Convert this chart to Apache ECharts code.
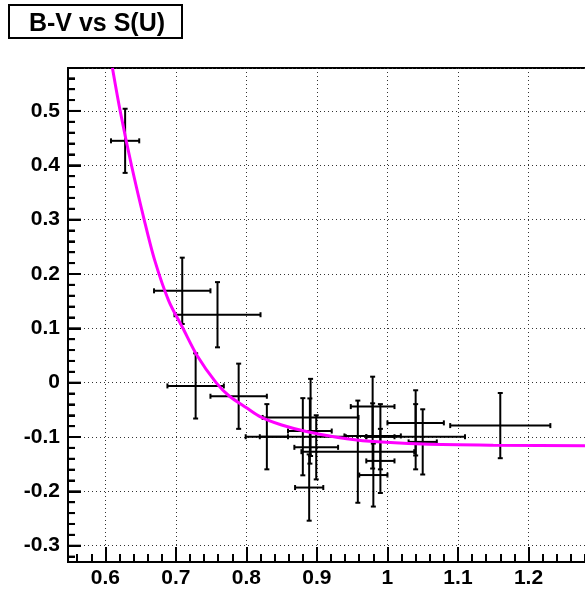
<!DOCTYPE html>
<html><head><meta charset="utf-8">
<script src="https://cdn.jsdelivr.net/npm/echarts@6/dist/echarts.min.js"></script>
<style>html,body{margin:0;padding:0;background:#fff}#c{width:585px;height:592px}</style>
</head><body><div id="c"></div>
<script>
// ---- data ----
const titleText = 'B-V vs S(U)';
const ptX    = [0.628, 0.709, 0.759, 0.728, 0.789, 0.829, 0.880, 0.891, 0.890, 0.899, 0.889, 0.958, 0.979, 0.979, 0.980, 0.990, 0.990, 1.040, 1.040, 1.050, 1.160];
const ptY    = [0.445, 0.169, 0.125, -0.006, -0.025, -0.0995, -0.0995, -0.064, -0.089, -0.119, -0.193, -0.127, -0.044, -0.098, -0.170, -0.144, -0.0995, -0.074, -0.0995, -0.109, -0.079];
const ptXErr = [0.020, 0.040, 0.061, 0.040, 0.040, 0.030, 0.061, 0.068, 0.031, 0.031, 0.020, 0.080, 0.031, 0.040, 0.020, 0.020, 0.020, 0.040, 0.070, 0.020, 0.071];
const ptYErr = [0.059, 0.061, 0.060, 0.060, 0.060, 0.060, 0.071, 0.071, 0.060, 0.059, 0.061, 0.094, 0.055, 0.060, 0.058, 0.059, 0.060, 0.060, 0.060, 0.060, 0.060];
const curveX = [0.610, 0.621, 0.637, 0.655, 0.670, 0.690, 0.710, 0.730, 0.757, 0.776, 0.800, 0.820, 0.850, 0.885, 0.930, 0.975, 1.050, 1.150, 1.300];
const curveY = [0.579, 0.500, 0.400, 0.300, 0.225, 0.150, 0.100, 0.050, 0.000, -0.025, -0.046, -0.063, -0.078, -0.090, -0.101, -0.108, -0.113, -0.115, -0.116];
const xTickLabels = ['0.6', '0.7', '0.8', '0.9', '1', '1.1', '1.2'];
const yTickLabels = ['-0.3', '-0.2', '-0.1', '0', '0.1', '0.2', '0.3', '0.4', '0.5'];

const X_MIN = 0.547, X_MAX = 1.30, Y_MIN = -0.330, Y_MAX = 0.579;

// y tick positions (majors from the labels, minors every 0.02)
const yMajorVals = yTickLabels.map(Number);
const yMinorVals = [];
for (let i = -16; i <= 28; i++) { if (i % 5 !== 0) yMinorVals.push(Math.round(i * 2) / 100); }

const points = ptX.map((x, i) => [x, ptY[i], ptXErr[i], ptYErr[i]]);
const curve = curveX.map((x, i) => [x, curveY[i]]);

const FONT = 'Liberation Sans';
const labelStyle = { color: '#000', fontFamily: FONT, fontWeight: 'bold', fontSize: 21 };
const blackLine = { color: '#000', width: 2 };
const gridLine = { show: true, lineStyle: { color: '#333', width: 1, type: [1, 3] } };

const tickSegs = [];
yMajorVals.forEach(v => tickSegs.push([X_MIN, v, 13]));
yMinorVals.forEach(v => tickSegs.push([X_MIN, v, 7]));

const chart = echarts.init(document.getElementById('c'), null, { renderer: 'canvas' });
chart.setOption({
  animation: false,
  backgroundColor: '#fff',
  grid: { left: 68, top: 68, width: 531, height: 494, show: true, borderColor: '#000', borderWidth: 2, backgroundColor: 'transparent', containLabel: false, outerBoundsMode: 'none' },
  xAxis: {
    type: 'value', min: X_MIN, max: X_MAX, minInterval: 0.1, maxInterval: 0.1, position: 'bottom',
    axisLine: { show: true, onZero: false, lineStyle: blackLine },
    axisTick: { show: true, inside: true, length: 15, lineStyle: blackLine },
    minorTick: { show: true, splitNumber: 5, length: 8, lineStyle: blackLine },
    axisLabel: { show: true, margin: 6, showMinLabel: false, showMaxLabel: false, ...labelStyle,
      formatter: v => { const s = String(+(+v).toFixed(2)); return xTickLabels.includes(s) ? s : ''; } },
    splitLine: gridLine, minorSplitLine: { show: false }
  },
  yAxis: {
    type: 'value', min: Y_MIN, max: Y_MAX, minInterval: 0.1, maxInterval: 0.1, position: 'left',
    axisLine: { show: true, onZero: false, lineStyle: blackLine },
    axisTick: { show: true, inside: true, length: 13, lineStyle: blackLine },
    minorTick: { show: true, splitNumber: 5, length: 7, lineStyle: blackLine },
    axisLabel: { show: true, margin: 8, showMinLabel: false, showMaxLabel: false, ...labelStyle,
      formatter: v => { const s = String(+(+v).toFixed(2)); return yTickLabels.includes(s) ? s : ''; } },
    splitLine: gridLine, minorSplitLine: { show: false }
  },
  series: [
    { type: 'custom', z: 3, data: points,
      renderItem: function (params, api) {
        const x = api.value(0), y = api.value(1), ex = api.value(2), ey = api.value(3);
        const l = api.coord([x - ex, y]), r = api.coord([x + ex, y]);
        const t = api.coord([x, y + ey]), b = api.coord([x, y - ey]);
        const c = 2.5;
        const st = { stroke: '#000', lineWidth: 2 };
        const ln = (x1, y1, x2, y2) => ({ type: 'line', shape: { x1, y1, x2, y2 }, style: st });
        return { type: 'group', children: [
          ln(l[0], l[1], r[0], r[1]),
          ln(t[0], t[1], b[0], b[1]),
          ln(l[0], l[1] - c, l[0], l[1] + c),
          ln(r[0], r[1] - c, r[0], r[1] + c),
          ln(t[0] - c, t[1], t[0] + c, t[1]),
          ln(b[0] - c, b[1], b[0] + c, b[1])
        ] };
      } },
    { type: 'line', z: 4, data: curve, showSymbol: false, smooth: 0.3,
      clip: true, lineStyle: { color: '#ff00ff', width: 3 } },
    { type: 'custom', z: 6, silent: true, clip: false, data: tickSegs,
      renderItem: function (params, api) {
        const p = api.coord([api.value(0), api.value(1)]);
        const len = api.value(2);
        return { type: 'rect', shape: { x: p[0], y: p[1] - 1, width: len, height: 2 }, style: { fill: '#000' } };
      } }
  ],
  graphic: [
    { type: 'rect', z: 10, shape: { x: 9, y: 5, width: 173, height: 33 }, style: { fill: '#fff', stroke: '#000', lineWidth: 2 } },
    { type: 'text', z: 11, x: 97, y: 24, style: { text: titleText, fontFamily: FONT, fontWeight: 'bold', fontSize: 25, fill: '#000', align: 'center', verticalAlign: 'middle' } }
  ]
});
</script>
</body></html>
